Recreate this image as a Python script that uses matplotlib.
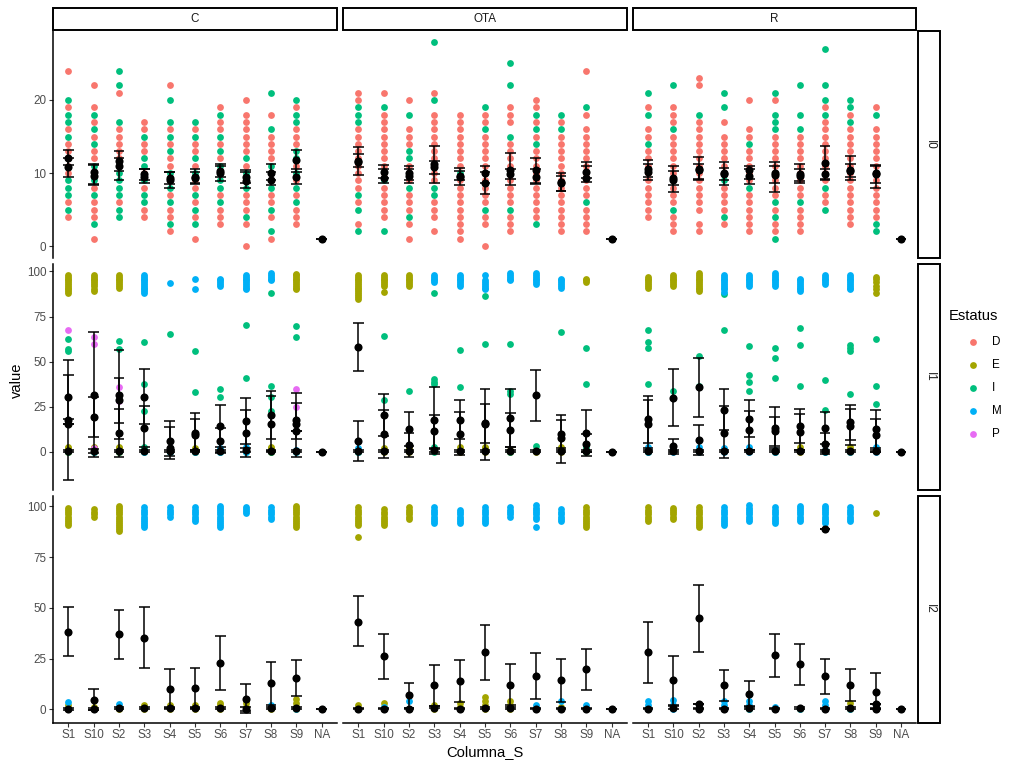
import matplotlib
matplotlib.use("Agg")
import matplotlib.pyplot as plt
from matplotlib.patches import Rectangle

plt.rcParams['font.family'] = ['Liberation Sans', 'DejaVu Sans']

# Facetas y categorias
grupos = ['C', 'OTA', 'R']
indices = ['I0', 'I1', 'I2']
columnas = ['S1', 'S10', 'S2', 'S3', 'S4', 'S5', 'S6', 'S7', 'S8', 'S9', 'NA']
estatus = ['D', 'E', 'I', 'M', 'P']
colores = {'D': '#F8766D', 'E': '#A3A500', 'I': '#00BF7D', 'M': '#00B0F6', 'P': '#E76BF3'}

# ---------------- I0 (valores por columna S1..NA) ----------------
i0_C_D = [[4, 6, 10, 11, 12, 13, 14, 16, 19, 24],
          [1, 4, 5, 6, 8, 10, 12, 13, 15, 17, 19, 22],
          [6, 11, 12, 13, 14, 15, 16, 21],
          [4, 5, 8, 10, 13, 14, 16, 17],
          [2, 4, 5, 7, 9, 11, 12, 14, 16, 22],
          [1, 4, 6, 8, 9, 11, 13, 14, 16],
          [3, 4, 5, 7, 10, 12, 14, 16, 17, 19],
          [0, 3, 5, 6, 7, 9, 11, 13, 14, 15, 16, 17, 18, 20],
          [1, 4, 6, 7, 9, 10, 12, 13, 14, 15, 18],
          [3, 4, 5, 7, 9, 11, 14, 15, 16, 19],
          [1]]
i0_C_I = [[5, 7, 8, 9, 15, 17, 18, 20],
          [3, 7, 9, 11, 14, 16, 18],
          [4, 5, 7, 8, 9, 10, 17, 22, 24],
          [6, 7, 9, 11, 12, 15],
          [3, 6, 8, 10, 13, 15, 17, 20],
          [3, 5, 7, 10, 12, 15, 17],
          [6, 8, 9, 11, 13, 15, 18],
          [4, 8, 10, 12],
          [2, 5, 8, 11, 16, 21],
          [6, 8, 10, 12, 13, 17, 18, 20],
          [1]]
i0_OTA_D = [[3, 6, 8, 9, 10, 11, 12, 13, 14, 15, 16, 20, 21],
            [4, 5, 6, 7, 8, 10, 11, 12, 13, 14, 15, 16, 17, 18, 21],
            [1, 3, 5, 6, 7, 9, 10, 11, 14, 15, 16, 20],
            [2, 4, 5, 6, 9, 10, 11, 12, 13, 14, 15, 16, 17, 18, 21],
            [1, 2, 3, 4, 5, 6, 7, 8, 9, 11, 12, 13, 14, 15, 16, 17, 18],
            [0, 3, 4, 6, 7, 8, 9, 11, 12, 13, 14, 15, 17, 18],
            [2, 3, 4, 6, 7, 8, 9, 10, 11, 12, 13, 14, 17, 18, 19],
            [4, 5, 6, 7, 8, 9, 10, 11, 12, 13, 15, 17, 19, 20],
            [2, 3, 4, 5, 6, 7, 8, 9, 10, 11, 12, 13, 14, 15, 17],
            [2, 3, 4, 5, 7, 8, 9, 10, 11, 12, 13, 14, 15, 16, 18, 24],
            [1]]
i0_OTA_I = [[2, 5, 7, 17, 18, 19], [2, 9, 19], [4, 8, 12, 13, 18], [7, 8, 20, 28],
            [10], [5, 10, 16, 19], [5, 15, 22, 25], [3, 14, 16, 18], [16, 18], [6, 19], [1]]
i0_R_D = [[4, 5, 6, 7, 8, 9, 10, 11, 12, 13, 15, 16, 19],
          [2, 3, 4, 6, 7, 8, 9, 10, 11, 12, 13, 14, 15, 17, 18, 19],
          [2, 3, 5, 6, 7, 8, 9, 10, 11, 12, 13, 14, 15, 16, 17, 22, 23],
          [3, 5, 6, 7, 8, 10, 11, 12, 13, 14, 15, 17],
          [2, 3, 4, 5, 6, 7, 9, 10, 11, 12, 13, 15, 16, 20],
          [2, 3, 5, 7, 8, 9, 10, 11, 12, 13, 14, 15, 20],
          [2, 3, 4, 5, 7, 8, 9, 10, 11, 12, 13, 14, 15],
          [6, 7, 9, 10, 11, 12, 13, 14, 15, 16, 17, 19],
          [3, 4, 5, 6, 7, 8, 9, 10, 11, 12, 13, 14, 15, 16, 18],
          [4, 5, 6, 7, 8, 9, 10, 11, 12, 13, 14, 15, 16, 19],
          [1]]
i0_R_I = [[14, 18, 21], [5, 16, 22], [18], [4, 9, 19, 21], [8, 14], [1, 4, 6, 16, 17, 18, 21],
          [6, 16, 18, 22], [5, 8, 18, 20, 22, 27], [17, 19, 20], [2, 3, 18], [1]]

# resumen: (media, inferior, superior)
i0_C_res = [[(12.1, 11.1, 13.1), (10.8, 9.5, 12.0)],
            [(10.1, 8.3, 11.2), (9.6, 8.5, 11.1)],
            [(11.6, 10.3, 13.0), (11.0, 9.0, 12.0)],
            [(9.9, 9.0, 10.6), (9.5, 8.6, 10.6)],
            [(9.0, 8.0, 10.1), (9.3, 8.5, 10.1)],
            [(9.5, 8.6, 10.5), (9.3, 8.5, 10.2)],
            [(10.3, 9.4, 11.2), (10.0, 8.9, 11.0)],
            [(9.4, 8.6, 10.4), (8.9, 7.9, 10.1)],
            [(10.0, 9.0, 11.2), (9.0, 8.3, 10.1)],
            [(9.5, 8.5, 10.5), (11.8, 10.2, 13.2)],
            [(0.9, 0.9, 0.9)]]
i0_OTA_res = [[(11.7, 9.7, 13.6), (11.5, 10.8, 12.6)],
              [(10.2, 9.3, 11.1), (9.3, 8.7, 10.6)],
              [(10.0, 9.0, 10.9), (9.6, 8.7, 10.5)],
              [(11.2, 8.6, 13.7), (10.8, 9.9, 11.7)],
              [(9.5, 8.3, 10.7), (9.6, 9.0, 10.3)],
              [(10.0, 8.6, 10.9), (8.6, 7.1, 10.2)],
              [(10.4, 8.4, 12.7), (9.9, 9.2, 10.6)],
              [(10.4, 8.6, 12.1), (9.5, 8.5, 10.5)],
              [(8.8, 7.5, 10.0), (8.6, 7.6, 9.6)],
              [(10.2, 9.3, 11.5), (9.3, 8.8, 10.9)],
              [(0.9, 0.9, 0.9)]]
i0_R_res = [[(10.2, 9.0, 11.3), (10.6, 9.4, 11.8)],
            [(9.0, 7.4, 10.3), (9.3, 8.3, 10.9)],
            [(10.6, 9.1, 12.2), (10.4, 9.2, 11.3)],
            [(10.0, 8.3, 11.5), (9.8, 9.0, 10.7)],
            [(10.4, 9.2, 11.0), (9.6, 8.5, 10.5)],
            [(10.0, 7.4, 11.5), (9.7, 8.6, 11.0)],
            [(9.8, 8.7, 11.2), (9.6, 8.9, 10.5)],
            [(11.4, 9.0, 13.7), (9.9, 9.2, 10.6)],
            [(10.4, 9.0, 12.3), (10.3, 9.4, 11.2)],
            [(10.0, 8.0, 11.1), (9.8, 8.6, 11.0)],
            [(0.9, 0.9, 0.9)]]

# ---------------- I1 ----------------
i1_C_E = [[0, 1, 2, 3, 88, 89, 90, 91, 92, 93, 94, 95, 96, 97, 98],
          [0, 1, 2, 3, 89, 90, 92, 93, 94, 95, 96, 97, 98],
          [0, 2, 3, 91, 92, 93, 94, 95, 96, 97, 98],
          [], [], [0, 1, 2], [], [], [0, 1, 2, 3],
          [90, 91, 92, 93, 94, 95, 96, 97, 98, 98.5],
          []]
i1_C_I = [[0, 55.7, 57, 62.6], [0], [0, 57, 61.7], [0, 1, 3, 22.8, 37.6, 60.7], [0, 65.4],
          [0, 33, 55.7], [0, 30.7, 34.8], [0, 40.7, 70.6], [0, 22.8, 30.6, 36.7, 88.3],
          [0, 63.5, 69.6], [0]]
i1_C_M = [[], [0], [], [0, 88, 89, 90, 91, 92, 93, 94, 95, 96, 97, 98], [0, 2, 93.5], [0, 90.5, 96],
          [0, 1, 2, 92, 93, 94, 95, 96], [0, 1, 3, 90, 91, 92, 93, 94, 95, 96, 97, 98],
          [95, 96, 97, 98, 99], [0, 1], [0]]
i1_C_P = [[67.6], [1, 2, 59.8, 63.5], [28.3, 35.7], [], [], [], [], [], [], [25, 34.8], []]

i1_OTA_E = [[0, 85, 86, 87, 88, 89, 90, 91, 92, 93, 94, 95, 96, 97, 98],
            [0, 1, 2, 88.7, 92, 93, 94, 95, 96, 97, 98],
            [0, 1, 2, 92, 93, 94, 95, 96, 97, 98],
            [], [0, 1, 3], [0, 1, 2, 3], [0, 1], [0, 1], [0, 1, 3],
            [0, 1, 94, 95, 96],
            []]
i1_OTA_I = [[0], [28.5, 64.4], [33.9], [0, 1, 3, 37.6, 39, 40.4, 88.2], [35.7, 56.5], [59.8, 86.3],
            [0, 32, 34, 59.8], [3.3], [66.7], [0, 3, 37.6, 57.6], [0]]
i1_OTA_M = [[0, 2], [], [], [94, 95, 96, 97, 98], [92, 93, 94, 95, 96, 97, 98],
            [90, 91, 92, 93, 94, 95, 98.3], [95, 96, 97, 98, 99], [93, 94, 95, 96, 97, 98, 99],
            [91, 92, 93, 94, 95, 96], [], []]

i1_R_E = [[91, 92, 93, 94, 95, 96, 97], [92, 93, 94, 95, 96, 97, 98],
          [89, 90, 91, 92, 93, 94, 95, 96, 97, 98, 99], [], [], [], [0, 1, 3], [], [0, 1, 3],
          [88, 90, 92, 94, 96, 97], []]
i1_R_I = [[0, 37.6, 57.6, 60.7, 67.6], [33.9], [36.7, 53], [67.6, 87.6], [33.9, 38.5, 42.6, 58.5],
          [0, 40.7, 51.9, 57.6], [36.7, 59.4, 68.5], [0, 23.5, 39.8], [31.9, 56, 57.5, 59],
          [26.3, 36.7, 62.6], [0]]
i1_R_M = [[0, 1, 3], [0, 1, 2], [0, 1, 3], [0, 1, 2, 88.5, 90, 91, 92, 93, 94, 95, 96, 97, 98],
          [0, 1, 3, 92, 93, 94, 95, 96, 97, 98], [0, 1, 92, 93, 94, 95, 96, 97, 98, 99],
          [89, 90, 91, 92, 93, 94, 95, 96], [0, 1, 93, 94, 95, 96, 97, 98],
          [0, 90, 91, 92, 93, 94, 95, 96, 97, 98], [0, 1, 3], []]

i1_C_res = [[(30.6, 18.0, 42.8), (17.6, -15.7, 51.0), (15.7, 15.7, 15.7), (0.5, 0, 1)],
            [(31.7, -3.0, 66.3), (19.4, 8.5, 30.2), (0.5, -0.5, 1.5)],
            [(31.7, 6.9, 56.5), (28.6, 16.3, 40.9), (10.5, -2.6, 23.7), (0.5, 0, 1)],
            [(30.6, 15.7, 45.9), (13.5, 3.0, 25.2), (0.5, 0, 1)],
            [(6.1, -4.0, 17.2), (2.0, -2.0, 13.9), (0.5, 0, 1)],
            [(10.7, 1.0, 21.3), (9.4, 0.5, 18.1), (0.5, 0, 1)],
            [(14.4, 2.8, 26.0), (6.1, -0.4, 13.0), (0.5, 0, 1)],
            [(17.2, 4.6, 29.6), (10.4, -2.6, 23.1), (0.8, 0, 2)],
            [(20.5, 7.0, 33.9), (15.4, 0.5, 31.1), (0.5, 0, 1)],
            [(15.4, -2.8, 32.4), (17.6, 7.0, 26.9), (11.7, 11.7, 11.7), (0.5, 0, 1)],
            [(0, 0, 0)]]
i1_OTA_res = [[(58.0, 44.6, 71.5), (6.1, -5.0, 17.2), (0.5, 0, 1)],
              [(20.5, 9.0, 32.0), (9.9, -3.5, 23.3), (0.5, 0, 1)],
              [(12.6, 3.3, 21.9), (3.7, -2.6, 10.4), (0.5, 0, 1)],
              [(17.6, -1.0, 36.0), (11.7, 1.5, 20.6), (1.0, 0, 2)],
              [(17.8, 7.0, 28.7), (10.2, -1.9, 22.0), (0.5, 0, 1)],
              [(15.7, -4.6, 34.8), (15.8, 5.2, 26.5), (0.5, 0, 1)],
              [(18.7, 2.6, 34.8), (12.0, 2.7, 21.3), (0.5, 0, 1)],
              [(31.5, 17.2, 45.4), (0.5, 0, 1)],
              [(7.6, -5.9, 20.5), (9.8, 2.0, 17.6), (0.5, 0, 1)],
              [(10.4, -2.2, 23.1), (4.6, 0, 10.2), (0.5, 0, 1)],
              [(0, 0, 0)]]
i1_R_res = [[(18.1, 5.2, 31.1), (15.4, 2.0, 28.7), (0.5, 0, 1)],
            [(30.0, 14.4, 45.9), (3.2, -1.0, 7.4), (0.5, 0, 1)],
            [(36.1, 19.6, 52.0), (6.5, -1.7, 14.8), (0.5, 0, 1)],
            [(23.1, 12.2, 34.8), (10.7, -3.1, 25.2), (0.5, 0, 1)],
            [(18.1, 8.3, 28.7), (12.0, 0.9, 22.4), (0.5, 0, 1)],
            [(13.0, 1.9, 24.8), (11.7, 3.3, 19.6), (0.5, 0, 1)],
            [(14.4, 5.2, 23.9), (11.1, 1.0, 21.0), (0.5, 0, 1)],
            [(13.1, 4.3, 21.9), (4.3, -1.0, 10.4), (0.5, 0, 1)],
            [(16.7, 6.5, 26.0), (14.4, 4.0, 24.0), (0.5, 0, 1)],
            [(12.6, 2.1, 23.1), (9.3, 0.1, 18.5), (0.5, 0, 1)],
            [(0, 0, 0)]]

# ---------------- I2 ----------------
i2_C_E = [[0, 2, 91, 92, 93, 94, 95, 96, 97, 98, 99],
          [0, 1, 95, 96, 97, 98.7],
          [0, 88, 89, 90, 91, 92, 93, 94, 95, 96, 97, 98, 99, 100],
          [0, 1, 2], [0, 1, 2], [0, 1, 2], [0, 1, 2, 3], [0, 1, 3], [0, 1],
          [0, 1, 3, 5, 90, 91, 92, 93, 94, 95, 96, 97, 98, 99, 100],
          []]
i2_C_M = [[3.6], [], [2.8], [90, 91, 92, 93, 94, 95, 96, 97, 98, 99.5], [95, 96, 97, 98, 99.5],
          [93, 94, 95, 96, 97, 98, 99.5], [90, 91, 92, 93, 94, 95, 96, 97, 98, 99, 100],
          [0, 96.5, 97.5, 98.5, 99.5], [2, 94, 95, 96, 97, 98, 99.5], [0], [0]]
i2_OTA_E = [[0, 2, 85, 91, 92, 93, 94, 95, 96, 97, 98, 99.5],
            [0, 1, 3, 91, 92, 93, 94, 95, 96, 97, 98.7],
            [0, 94, 95, 96, 97, 98, 99.5],
            [0, 2], [0, 1, 3], [0, 2, 4, 6], [0, 1, 2, 4], [0], [0, 1],
            [0, 90, 91, 92, 93, 94, 95, 96, 97, 98, 99.5],
            []]
i2_OTA_M = [[0], [1], [4], [91.7, 93, 94, 95, 96, 97, 98, 99.5], [92, 93, 94, 95, 96, 97, 98.3],
            [92, 93, 94, 95, 96, 97, 98, 99.5], [95, 96, 97, 98, 99.5],
            [2, 90, 94, 95, 96, 97, 98, 99, 100.5], [4, 93, 94, 95, 96, 97, 98.7], [2], [0]]
i2_R_E = [[93, 94, 95, 96, 97, 98, 99.5], [94, 95, 96, 97, 98, 99],
          [90, 91, 92, 93, 94, 95, 96, 97, 98, 99.5], [], [0], [], [0], [], [0, 3], [0, 96.7], []]
i2_R_M = [[0, 2, 4], [0, 2, 4.8], [0, 2], [0, 2, 4, 91, 92, 93, 94, 95, 96, 97, 98, 99.5],
          [0, 2, 4, 93, 94, 95, 96, 97, 98, 99, 100.5], [0, 1, 92, 93, 94, 95, 96, 97, 98, 99.5],
          [0, 93, 94, 95, 96, 97, 98, 99, 100], [0, 2, 4, 92, 93, 94, 95, 96, 97, 98, 99, 100],
          [0, 93, 94, 95, 96, 97, 98, 99.5], [0, 2], [0]]

i2_C_res = [[(38.3, 26.4, 50.4), (0.2, -0.3, 0.7)],
            [(4.8, -0.3, 9.9), (0.2, -0.3, 0.7)],
            [(37.2, 25.1, 49.1), (0.5, 0, 1)],
            [(35.4, 20.2, 50.4), (0.5, 0, 1)],
            [(10.2, 0.5, 19.8), (0.5, 0, 1)],
            [(10.6, 0.5, 20.2), (0.5, 0, 1)],
            [(23.0, 9.4, 36.4), (0.5, 0, 1)],
            [(5.3, -1.8, 12.7), (0.3, -0.5, 1)],
            [(13.1, 2.3, 23.5), (0.5, 0, 1)],
            [(15.7, 6.6, 24.6), (0.5, 0, 1)],
            [(0.2, 0.2, 0.2)]]
i2_OTA_res = [[(43.3, 31.2, 55.7), (0.2, 0, 0.5)],
              [(26.3, 14.9, 37.2), (0.2, 0, 0.5)],
              [(6.9, 0.5, 13.1), (0.2, 0, 0.5)],
              [(11.9, 1.5, 21.8), (0.8, 0.5, 1.5)],
              [(14.0, 3.6, 24.6), (0.2, 0, 0.5)],
              [(28.1, 14.4, 41.7), (0.7, 0.3, 1.2)],
              [(12.2, 2.3, 22.3), (0.7, 0.3, 1.2)],
              [(16.5, 5.0, 27.9), (0.2, 0, 0.5)],
              [(14.4, 3.6, 24.8), (0.2, 0, 0.5)],
              [(19.7, 9.4, 29.6), (0.2, 0, 0.5)],
              [(0.2, 0.2, 0.2)]]
i2_R_res = [[(28.1, 13.1, 43.3), (0.2, 0, 0.5)],
            [(14.4, 2.3, 26.3), (0.8, 0.3, 1.5)],
            [(45.0, 28.4, 61.5), (2.8, 2.8, 2.8), (0.2, 0, 0.5)],
            [(11.9, 4.1, 19.3), (0.2, 0, 0.5)],
            [(7.8, 1.5, 14.0), (0.8, 0.3, 1.3)],
            [(26.8, 16.0, 37.2), (0.2, 0, 0.5)],
            [(22.3, 12.2, 32.2), (0.7, 0.3, 1.2)],
            [(16.4, 7.4, 24.8), (89.1, 89.1, 89.1), (0.2, 0, 0.5)],
            [(12.2, 4.1, 19.8), (0.7, 0.3, 1.2)],
            [(8.6, 0.0, 18.0), (2.8, 2.8, 2.8), (0.2, 0, 0.5)],
            [(0.2, 0.2, 0.2)]]

puntos = {
    ('I0', 'C'): {'D': i0_C_D, 'I': i0_C_I},
    ('I0', 'OTA'): {'D': i0_OTA_D, 'I': i0_OTA_I},
    ('I0', 'R'): {'D': i0_R_D, 'I': i0_R_I},
    ('I1', 'C'): {'E': i1_C_E, 'I': i1_C_I, 'M': i1_C_M, 'P': i1_C_P},
    ('I1', 'OTA'): {'E': i1_OTA_E, 'I': i1_OTA_I, 'M': i1_OTA_M},
    ('I1', 'R'): {'E': i1_R_E, 'I': i1_R_I, 'M': i1_R_M},
    ('I2', 'C'): {'E': i2_C_E, 'M': i2_C_M},
    ('I2', 'OTA'): {'E': i2_OTA_E, 'M': i2_OTA_M},
    ('I2', 'R'): {'E': i2_R_E, 'M': i2_R_M},
}
resumen = {
    ('I0', 'C'): i0_C_res, ('I0', 'OTA'): i0_OTA_res, ('I0', 'R'): i0_R_res,
    ('I1', 'C'): i1_C_res, ('I1', 'OTA'): i1_OTA_res, ('I1', 'R'): i1_R_res,
    ('I2', 'C'): i2_C_res, ('I2', 'OTA'): i2_OTA_res, ('I2', 'R'): i2_R_res,
}

# ---------------- layout (pixeles) ----------------
W, H = 1024, 768
col_px = [(53, 337), (343, 627), (633, 916)]
row_px = [(31, 258), (263.5, 490), (496, 722.5)]
ylims = [(-1.64, 29.45), (-21.1, 104.4), (-6.4, 105.1)]
yticks = [[0, 10, 20], [0, 25, 50, 75, 100], [0, 25, 50, 75, 100]]

gris30 = '#4D4D4D'
fig = plt.figure(figsize=(W / 100, H / 100), dpi=100)


def caja(x0, y0, x1, y1):
    return [x0 / W, 1 - y1 / H, (x1 - x0) / W, (y1 - y0) / H]


for i, ind in enumerate(indices):
    for j, g in enumerate(grupos):
        ax = fig.add_axes(caja(col_px[j][0], row_px[i][0], col_px[j][1], row_px[i][1]))
        ax.patch.set_alpha(0)
        for est in estatus:
            if est not in puntos[(ind, g)]:
                continue
            for k, vals in enumerate(puntos[(ind, g)][est]):
                ax.scatter([k] * len(vals), vals, s=24, color=colores[est],
                           linewidths=0, zorder=2, clip_on=False)
        for k, filas in enumerate(resumen[(ind, g)]):
            for m, lo, hi in filas:
                ax.vlines(k, lo, hi, color='black', lw=1.1, zorder=3)
                ax.hlines([lo, hi], k - 0.21, k + 0.21, color='black', lw=1.1, zorder=3)
                ax.scatter([k], [m], s=34, color='black', linewidths=0, zorder=4)

        ax.set_xlim(-0.6, 10.6)
        ax.set_ylim(*ylims[i])
        for lado in ['top', 'right', 'left', 'bottom']:
            ax.spines[lado].set_visible(False)
        ax.tick_params(length=2.7, width=0.8, color='#333333', labelcolor=gris30,
                       labelsize=8.4, pad=2)
        if j == 0:
            ax.spines['left'].set_visible(True)
            ax.spines['left'].set_linewidth(1.1)
            ax.set_yticks(yticks[i])
        else:
            ax.set_yticks([])
        if i == 2:
            ax.spines['bottom'].set_visible(True)
            ax.spines['bottom'].set_linewidth(1.1)
            ax.set_xticks(range(len(columnas)))
            ax.set_xticklabels(columnas)
        else:
            ax.set_xticks([])

# ---------------- strips, titulos y leyenda ----------------
top = fig.add_axes([0, 0, 1, 1])
top.set_xlim(0, W)
top.set_ylim(H, 0)
top.axis('off')
top.patch.set_alpha(0)

for j, g in enumerate(grupos):
    x0, x1 = col_px[j]
    top.add_patch(Rectangle((x0, 8), x1 - x0, 22, facecolor='white', edgecolor='black', lw=1.4))
    top.text((x0 + x1) / 2, 19.5, g, ha='center', va='center', fontsize=8.4, color='#1A1A1A')
for i, ind in enumerate(indices):
    y0, y1 = row_px[i]
    top.add_patch(Rectangle((918, y0), 22, y1 - y0, facecolor='white', edgecolor='black', lw=1.4))
    top.text(929.5, (y0 + y1) / 2, ind, ha='center', va='center', rotation=-90,
             fontsize=8.4, color='#1A1A1A')

top.text(484.5, 752, 'Columna_S', ha='center', va='center', fontsize=10.6)
top.text(17, 380, 'value', ha='center', va='center', rotation=90, fontsize=10.6)

top.text(949, 316, 'Estatus', ha='left', va='center', fontsize=10.6)
for n, est in enumerate(estatus):
    yy = 342.3 + n * 23
    top.scatter([972.7], [yy], s=24, color=colores[est], linewidths=0)
    top.text(992, yy, est, ha='left', va='center', fontsize=8.4)

fig.savefig('out.png', dpi=100)
